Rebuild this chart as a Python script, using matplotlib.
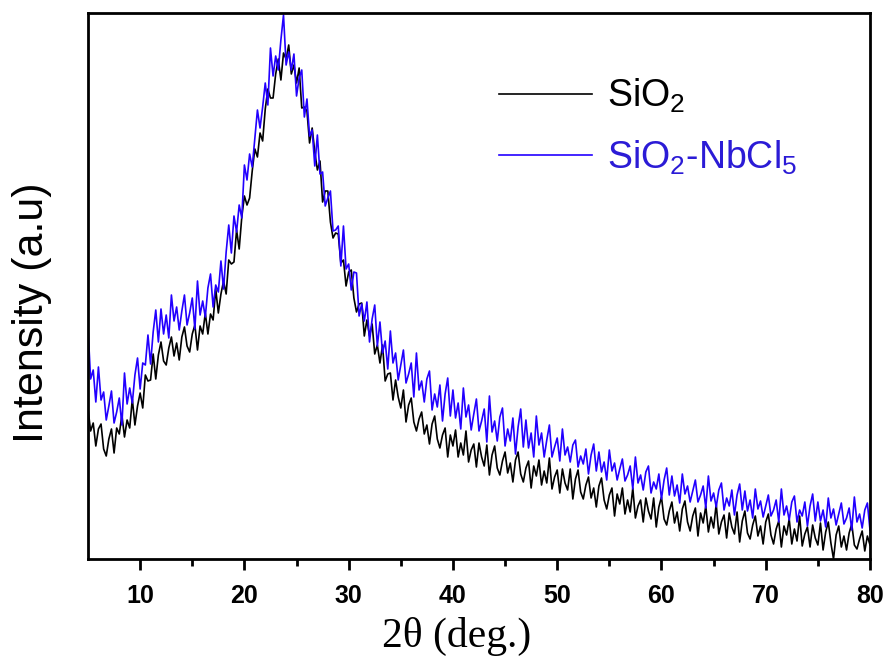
import numpy as np
import matplotlib
matplotlib.use("Agg")
import matplotlib.pyplot as plt

# XRD scan, 2theta from 5 to 80 deg, step 0.25 deg
two_theta = np.arange(5.0, 80.0 + 0.125, 0.25)

sio2 = [
    150, 128, 136, 113, 130, 135, 110, 103, 120, 130, 106, 131,
    125, 144, 122, 139, 131, 160, 134, 153, 166, 151, 184, 178,
    179, 205, 180, 204, 217, 198, 194, 211, 222, 203, 216, 199,
    222, 232, 213, 207, 225, 234, 209, 233, 225, 246, 225, 245,
    239, 270, 246, 265, 278, 265, 299, 295, 297, 329, 310, 342,
    363, 354, 361, 388, 410, 402, 426, 418, 450, 470, 461, 461,
    485, 500, 479, 506, 500, 514, 485, 494, 476, 491, 451, 452,
    448, 416, 431, 407, 389, 398, 357, 368, 368, 337, 321, 326,
    325, 296, 299, 273, 287, 289, 261, 247, 255, 256, 223, 239,
    223, 235, 205, 214, 196, 214, 178, 185, 186, 159, 179, 162,
    151, 169, 137, 154, 161, 137, 128, 140, 147, 125, 134, 115,
    135, 143, 120, 111, 124, 131, 102, 124, 113, 129, 102, 116,
    104, 128, 97, 109, 115, 92, 116, 102, 93, 114, 84, 104,
    113, 91, 84, 98, 107, 86, 96, 77, 99, 107, 85, 77,
    91, 98, 71, 93, 83, 99, 74, 88, 76, 101, 70, 82,
    89, 66, 90, 76, 69, 90, 60, 80, 89, 67, 60, 74,
    82, 61, 71, 52, 73, 81, 59, 50, 64, 71, 43, 65,
    55, 71, 45, 59, 47, 71, 41, 53, 59, 37, 61, 48,
    40, 61, 32, 52, 62, 40, 34, 48, 57, 36, 47, 28,
    50, 58, 37, 28, 43, 51, 23, 46, 36, 53, 27, 42,
    31, 55, 25, 37, 44, 21, 46, 32, 25, 47, 17, 38,
    48, 26, 20, 34, 43, 23, 33, 15, 37, 45, 24, 15,
    30, 38, 12, 33, 24, 40, 15, 30, 18, 43, 13, 25,
    32, 12, 34, 21, 14, 36, 9, 27, 37, 16, 0, 24,
    33, 12, 23, 9, 26, 35, 14, 10, 20, 28, 8, 23,
    14,
]

sio2_nbcl5 = [
    231, 180, 189, 157, 192, 159, 167, 139, 153, 168, 136, 147,
    161, 134, 186, 155, 171, 156, 184, 201, 170, 196, 194, 224,
    195, 227, 249, 217, 250, 225, 244, 221, 264, 238, 252, 229,
    248, 264, 234, 246, 261, 230, 278, 244, 258, 242, 271, 285,
    252, 274, 267, 298, 270, 307, 334, 306, 343, 327, 354, 341,
    394, 379, 405, 392, 421, 449, 431, 452, 476, 454, 511, 483,
    503, 489, 519, 544, 494, 507, 489, 505, 463, 481, 489, 442,
    460, 423, 429, 393, 424, 385, 387, 353, 361, 368, 328, 329,
    333, 293, 333, 290, 295, 269, 287, 286, 243, 255, 238, 257,
    217, 240, 254, 213, 237, 206, 218, 190, 228, 196, 206, 179,
    194, 209, 176, 185, 196, 162, 206, 169, 178, 157, 180, 188,
    149, 165, 152, 174, 138, 165, 181, 143, 169, 141, 156, 130,
    171, 142, 154, 129, 145, 160, 128, 138, 150, 117, 163, 127,
    138, 118, 142, 151, 113, 130, 118, 141, 105, 132, 150, 112,
    139, 111, 126, 102, 143, 114, 126, 102, 119, 134, 102, 112,
    121, 98, 130, 104, 112, 97, 114, 119, 92, 103, 95, 110,
    85, 104, 115, 88, 107, 87, 97, 79, 109, 88, 96, 79,
    90, 100, 78, 84, 93, 70, 102, 76, 84, 69, 87, 93,
    66, 77, 70, 85, 60, 79, 91, 64, 83, 63, 74, 56,
    85, 65, 73, 57, 68, 79, 57, 64, 73, 51, 83, 58,
    66, 52, 69, 76, 49, 61, 53, 69, 44, 64, 75, 49,
    68, 48, 59, 41, 70, 50, 58, 42, 53, 64, 43, 49,
    59, 37, 70, 44, 53, 39, 57, 63, 37, 49, 43, 57,
    33, 53, 65, 38, 57, 38, 49, 32, 61, 41, 50, 34,
    45, 56, 35, 41, 51, 29, 62, 37, 45, 31, 49, 56,
    29,
]

labels = [r"SiO$\mathregular{_2}$", r"SiO$\mathregular{_2}$-NbCl$\mathregular{_5}$"]
colors = ["#000000", "#2200ff"]

fig = plt.figure(figsize=(8.9, 6.58), dpi=100)
ax = fig.add_axes([88 / 890, 1 - 559 / 658, 782 / 890, 546 / 658])

ax.plot(two_theta, sio2, color=colors[0], lw=1.2, label=labels[0])
ax.plot(two_theta, sio2_nbcl5, color=colors[1], lw=1.2, label=labels[1])

ax.set_xlim(5, 80)
ax.set_ylim(0, 546)
ax.set_xticks([10, 20, 30, 40, 50, 60, 70, 80])
ax.set_xticks([15, 25, 35, 45, 55, 65, 75], minor=True)
ax.set_yticks([])
ax.tick_params(axis="x", which="major", direction="out", length=8, width=2,
               labelsize=18, pad=10)
ax.tick_params(axis="x", which="minor", direction="out", length=5, width=2)
for lab in ax.get_xticklabels():
    lab.set_fontfamily("Liberation Sans")
    lab.set_fontweight("bold")
for sp in ax.spines.values():
    sp.set_linewidth(2)

# axis titles placed by hand (the y title sits a bit below the axes centre)
fig.text(32 / 890, 1 - 313 / 658, "Intensity (a.u)", fontsize=31, family="Liberation Sans",
         rotation=90, ha="center", va="center")
fig.text(457 / 890, 1 - 636 / 658, "2θ (deg.)", fontsize=30, family="Liberation Serif",
         ha="center", va="center")

leg = ax.legend(loc="upper left", bbox_to_anchor=(0.482, 0.945), frameon=False,
                prop={"family": "Liberation Sans", "size": 27},
                handlelength=2.5, handletextpad=0.38, labelspacing=0.62)
for txt, c in zip(leg.get_texts(), ["#000000", "#2b1bd6"]):
    txt.set_color(c)

fig.savefig("out.png", dpi=100)
